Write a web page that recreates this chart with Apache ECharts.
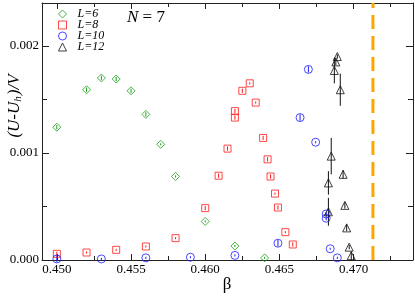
<!DOCTYPE html>
<html>
<head>
<meta charset="utf-8">
<script src="https://cdn.jsdelivr.net/npm/echarts@6/dist/echarts.min.js"></script>
<style>html,body{margin:0;padding:0;background:#fff}#c{width:415px;height:296px}</style>
</head>
<body>
<div id="c"></div>
<script>
// ---- data ----
const beta6 = [0.4500, 0.4520, 0.4530, 0.4540, 0.4550, 0.4560, 0.4570, 0.4580, 0.4600, 0.4620, 0.4640];
const val6  = [0.00124, 0.00159, 0.00170, 0.00169, 0.00158, 0.00136, 0.00108, 0.00078, 0.00036, 0.00013, 0.00002];
const err6  = [0.00002, 0.00002, 0.00002, 0.00002, 0.00002, 0.00002, 0.00001, 0.00001, 0.00001, 0.00001, 0.00001];

const beta8 = [0.4500, 0.4520, 0.4540, 0.4560, 0.4580, 0.4600, 0.4609, 0.4615, 0.4620, 0.4620, 0.4625, 0.4630, 0.4634, 0.4639, 0.4642, 0.4644, 0.4647, 0.4649, 0.4654, 0.4659];
const val8  = [0.000058, 0.000070, 0.000095, 0.000126, 0.000204, 0.000484, 0.000787, 0.00104, 0.00139, 0.00133, 0.00158, 0.00165, 0.00147, 0.00114, 0.00094, 0.00078, 0.00062, 0.00049, 0.00026, 0.000145];
const err8  = [0.00002, 0.00001, 0.00001, 0.00001, 0.00001, 0.00002, 0.00002, 0.00002, 0.00002, 0.00002, 0.00002, 0.00001, 0.00001, 0.00002, 0.00002, 0.00002, 0.00001, 0.00002, 0.00001, 0.00002];

const beta10 = [0.4500, 0.4530, 0.4560, 0.4590, 0.4620, 0.4649, 0.46639, 0.46695, 0.46744, 0.46815, 0.46815, 0.46842, 0.4689];
const val10  = [0.00001, 0.00001, 0.00002, 0.000026, 0.000043, 0.000157, 0.00133, 0.00178, 0.00110, 0.00043, 0.00039, 0.000105, 0.00002];
const err10  = [0.00003, 0.00001, 0.00001, 0.00001, 0.00001, 0.00003, 0.00003, 0.00003, 0.00001, 0.00002, 0.00002, 0.00001, 0.00001];

const beta12 = [0.4689, 0.4688, 0.4687, 0.4691, 0.46849, 0.4683, 0.4683, 0.46929, 0.46941, 0.46953, 0.4697, 0.46984];
const val12  = [0.00190, 0.00185, 0.00177, 0.00159, 0.00097, 0.00072, 0.00045, 0.00080, 0.00051, 0.00030, 0.00012, 0.00004];
const err12  = [0.00002, 0.00003, 0.00012, 0.00015, 0.00017, 0.00011, 0.00013, 0.00004, 0.00003, 0.00003, 0.00002, 0.00004];

const betaC = 0.4713;            // orange dashed line (critical beta)
const xMajor = [0.450, 0.455, 0.460, 0.465, 0.470];
const xMinor = [0.4525, 0.4575, 0.4625, 0.4675, 0.4725];
const yTickInterval = 0.001;
const legendNames = ['L=6', 'L=8', 'L=10', 'L=12'];

const colors = ['#1a9e1a', '#ff1a1a', '#1a1aff', '#111111'];
const symbols = ['diamond', 'rect', 'circle', 'triangle'];
const symSizes = [8, 7, 8, 8];

const SERIF = '"Liberation Serif", "DejaVu Serif", serif';
const AX = '#222';
const HIDDEN = 'rgba(0,0,0,0)';
const X_MIN = 0.449, X_MAX = 0.474, Y_MIN = 0, Y_MAX = 0.0024;

function pts(b, v) { return b.map((x, i) => [x, v[i]]); }
function errPts(b, v, e) { return b.map((x, i) => [x, v[i] - e[i], v[i] + e[i]]); }

const groups = [
  [beta6, val6, err6], [beta8, val8, err8], [beta10, val10, err10], [beta12, val12, err12]
];

function xAx(pos, vals, len, showLine, showLabel) {
  return {
    type: 'value', position: pos, min: X_MIN, max: X_MAX,
    axisLine: { show: showLine, onZero: false, lineStyle: { color: AX, width: 1 } },
    axisTick: { show: true, inside: true, length: len, customValues: vals, lineStyle: { color: AX, width: 1 } },
    axisLabel: { show: true, customValues: vals, margin: 3, color: showLabel ? '#000' : HIDDEN,
      fontFamily: SERIF, fontSize: 13, formatter: v => v.toFixed(3) },
    splitLine: { show: false }
  };
}
function yAx(pos, showLabel) {
  return {
    type: 'value', position: pos, min: Y_MIN, max: Y_MAX, interval: yTickInterval,
    axisLine: { show: true, onZero: false, lineStyle: { color: AX, width: 1 } },
    axisTick: { show: true, inside: true, length: 7, lineStyle: { color: AX, width: 1 } },
    minorTick: { show: true, splitNumber: 2, length: 5, lineStyle: { color: AX, width: 1 } },
    axisLabel: { show: true, showMaxLabel: false, margin: 3, color: showLabel ? '#000' : HIDDEN,
      fontFamily: SERIF, fontSize: 13, formatter: v => v.toFixed(3) },
    splitLine: { show: false }, minorSplitLine: { show: false }
  };
}

const series = [];
groups.forEach((g, k) => {
  series.push({
    type: 'custom', xAxisIndex: 0, yAxisIndex: 0, silent: true, z: 2,
    data: errPts(g[0], g[1], g[2]),
    renderItem: function (params, api) {
      const p1 = api.coord([api.value(0), api.value(1)]);
      const p2 = api.coord([api.value(0), api.value(2)]);
      return { type: 'line', shape: { x1: p1[0], y1: p1[1], x2: p2[0], y2: p2[1] },
        style: { stroke: colors[k], lineWidth: 1 } };
    }
  });
  series.push({
    name: legendNames[k], type: 'scatter', xAxisIndex: 0, yAxisIndex: 0, z: 3,
    symbol: symbols[k], symbolSize: symSizes[k],
    itemStyle: { color: 'transparent', borderColor: colors[k], borderWidth: 1 },
    data: pts(g[0], g[1])
  });
});
// orange dashed vertical line at beta_c
series.push({
  type: 'line', xAxisIndex: 0, yAxisIndex: 0, silent: true, z: 1, symbol: 'none',
  lineStyle: { color: '#FFA500', width: 3, type: [14, 7] },
  data: [[betaC, Y_MIN], [betaC, Y_MAX]]
});
// bind the decorative frame axes to the grid
for (let i = 1; i < 4; i++) {
  series.push({ type: 'scatter', xAxisIndex: i, yAxisIndex: 1, data: [], silent: true });
}

const chart = echarts.init(document.getElementById('c'), null, { renderer: 'canvas' });
chart.setOption({
  animation: false,
  backgroundColor: '#fff',
  grid: { left: 42, right: 2, top: 3, bottom: 36, containLabel: false, outerBoundsMode: 'none' },
  xAxis: [
    xAx('bottom', xMajor, 6, true, true),
    xAx('bottom', xMinor, 4, false, false),
    xAx('top', xMajor, 6, true, false),
    xAx('top', xMinor, 4, false, false)
  ],
  yAxis: [
    yAx('left', true),
    yAx('right', false)
  ],
  legend: {
    data: legendNames.map((n, k) => ({ name: n, icon: symbols[k] })),
    orient: 'vertical', left: 58, top: 8, padding: 0, itemWidth: 8, itemHeight: 8, itemGap: -1,
    selectedMode: false,
    itemStyle: { borderWidth: 1 },
    textStyle: { fontFamily: SERIF, fontStyle: 'italic', fontSize: 12, color: '#000', lineHeight: 12, padding: [0, 0, 0, 6] }
  },
  graphic: [
    { type: 'text', left: 127, top: 9, style: {
      text: '{i|N}{n| = 7}', rich: {
        i: { fontFamily: SERIF, fontStyle: 'italic', fontSize: 17, fill: '#000' },
        n: { fontFamily: SERIF, fontSize: 17, fill: '#000' } } } },
    { type: 'text', x: 15, y: 106, rotation: Math.PI / 2, style: {
      text: '{a|(U-U}{b|h}{a|)/V}', align: 'center', verticalAlign: 'middle', rich: {
        a: { fontFamily: SERIF, fontStyle: 'italic', fontSize: 17, lineHeight: 18, fill: '#000' },
        b: { fontFamily: SERIF, fontStyle: 'italic', fontSize: 11, lineHeight: 11, verticalAlign: 'bottom', padding: [0, 1, 0, 0], fill: '#000' } } } },
    { type: 'text', x: 227, y: 285, style: { text: 'β', align: 'center', verticalAlign: 'middle',
      fontFamily: SERIF, fontSize: 17, fill: '#000' } }
  ],
  series: series
});
</script>
</body>
</html>
